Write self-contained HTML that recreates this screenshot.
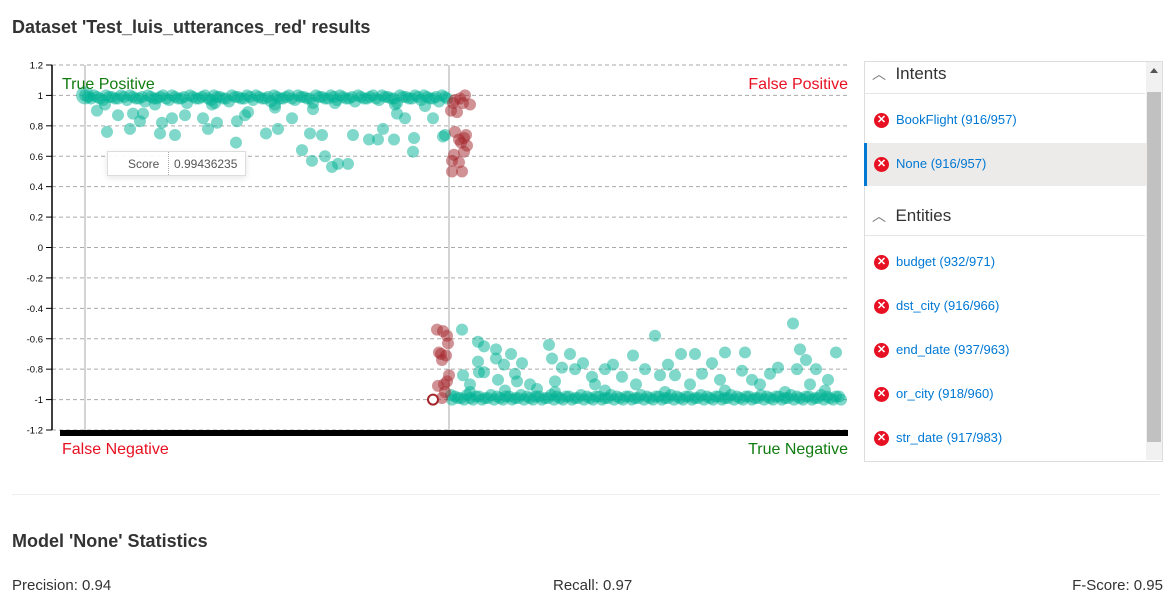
<!DOCTYPE html>
<html><head><meta charset="utf-8"><style>
body{margin:0;width:1166px;height:611px;background:#fff;font-family:"Liberation Sans",sans-serif;position:relative;overflow:hidden;color:#333}
.abs{position:absolute}
.item{position:absolute;left:865px;width:280px;height:43px;}
.item .x{position:absolute;left:9px;top:14px;width:15px;height:15px;border-radius:50%;background:#e81123;color:#fff;font-size:11px;line-height:15px;text-align:center;font-weight:bold}
.item .t{position:absolute;left:31px;top:13px;font-size:13px;color:#0078d4}
.hdr{position:absolute;left:872px;font-size:17px;color:#333}
</style></head><body>
<div class="abs" style="left:12px;top:17px;font-size:18px;font-weight:bold;color:#333">Dataset 'Test_luis_utterances_red' results</div>
<svg class="abs" style="left:0;top:0" width="860" height="470" id="chart"></svg>
<div class="abs" style="left:107px;top:151px;width:137px;height:23px;border:1px solid #ddd;background:rgba(255,255,255,0.92);box-shadow:0 2px 6px rgba(0,0,0,0.1);font-size:12px;color:#555">
<span style="position:absolute;left:20px;top:5px">Score</span><span style="position:absolute;left:60px;top:0;height:23px;border-left:1px dotted #aaa"></span><span style="position:absolute;left:66px;top:5px">0.99436235</span></div>

<div class="abs" style="left:864px;top:61px;width:297px;height:399px;border:1px solid #ddd"></div>
<div class="abs" style="left:1146px;top:62px;width:16px;height:398px;background:#f1f1f1"><div style="position:absolute;left:1px;top:30px;width:14px;height:350px;background:#c1c1c1"></div><div style="position:absolute;left:4px;top:6px;border:4px solid transparent;border-bottom:5px solid #555;border-top:0"></div></div>
<div class="hdr" style="top:64px"><span style="color:#777;font-size:14px">︿</span>&nbsp; Intents</div>
<div class="abs" style="left:865px;top:93px;width:280px;border-top:1px solid #e5e5e5"></div>
<div class="item" style="top:99px"><div class="x">✕</div><div class="t">BookFlight (916/957)</div></div>
<div class="item" style="top:143px;background:#edebe9;border-left:3px solid #0078d4;left:864px"><div class="x" style="left:7px">✕</div><div class="t" style="left:29px">None (916/957)</div></div>
<div class="hdr" style="top:206px"><span style="color:#777;font-size:14px">︿</span>&nbsp; Entities</div>
<div class="abs" style="left:865px;top:235px;width:280px;border-top:1px solid #e5e5e5"></div>
<div class="item" style="top:241px"><div class="x">✕</div><div class="t">budget (932/971)</div></div>
<div class="item" style="top:285px"><div class="x">✕</div><div class="t">dst_city (916/966)</div></div>
<div class="item" style="top:329px"><div class="x">✕</div><div class="t">end_date (937/963)</div></div>
<div class="item" style="top:373px"><div class="x">✕</div><div class="t">or_city (918/960)</div></div>
<div class="item" style="top:417px"><div class="x">✕</div><div class="t">str_date (917/983)</div></div>

<div class="abs" style="left:12px;top:494px;width:1148px;border-top:1px solid #eee"></div>
<div class="abs" style="left:12px;top:531px;font-size:18px;font-weight:bold">Model 'None' Statistics</div>
<div class="abs" style="left:12px;top:577px;font-size:15px">Precision: 0.94</div>
<div class="abs" style="left:553px;top:577px;font-size:15px">Recall: 0.97</div>
<div class="abs" style="right:3px;top:577px;font-size:15px">F-Score: 0.95</div>
<script>
const yTicks=[1.2,1,0.8,0.6,0.4,0.2,0,-0.2,-0.4,-0.6,-0.8,-1,-1.2];
const tpBand=[[0,1],[6,.98],[12,.99],[18,.97],[24,.99],[30,.98],[36,1],[42,.97],[48,.99],[54,.98],[60,.96],[66,.99],[72,.98],[78,1],[84,.97],[90,.99],[96,.98],[102,.95],[108,.99],[114,.98],[120,1],[126,.97],[132,.99],[138,.98],[144,.96],[150,.99],[156,.98],[162,1],[168,.97],[174,.99],[180,.98],[186,.96],[192,.99],[198,.98],[204,1],[210,.97],[216,.99],[222,.98],[228,.95],[234,.99],[240,.98],[246,1],[252,.97],[258,.99],[264,.98],[270,.96],[276,.99],[282,.98],[288,1],[294,.97],[300,.99],[306,.98],[312,.95],[318,.99],[324,.98],[330,1],[336,.97],[342,.99],[348,.98],[354,.96],[360,.99],[20,.94],[70,.94],[130,.95],[190,.94],[250,.95],[310,.94],[340,.93]];
const tpBand2=[[3,.99],[9,1],[15,.98],[21,1],[27,.99],[33,.98],[39,.99],[45,1],[51,.98],[57,.99],[63,1],[69,.98],[75,.99],[81,.98],[87,1],[93,.98],[99,.99],[105,1],[111,.98],[117,.99],[123,.98],[129,1],[135,.99],[141,.98],[147,1],[153,.99],[159,.98],[165,.99],[171,1],[177,.98],[183,.99],[189,1],[195,.98],[201,.99],[207,.98],[213,1],[219,.99],[225,.98],[231,1],[237,.99],[243,.98],[249,.99],[255,1],[261,.98],[267,.99],[273,1],[279,.98],[285,.99],[291,.98],[297,1],[303,.99],[309,.98],[315,1],[321,.99],[327,.98],[333,.99],[339,1],[345,.98],[351,.99],[357,1],[362,.98]];
const tpOut=[[12,.9],[22,.76],[33,.87],[45,.78],[48,.88],[58,.88],[55,.83],[75,.75],[77,.82],[87,.85],[90,.74],[100,.87],[118,.85],[123,.78],[127,.94],[132,.82],[152,.83],[160,.87],[151,.69],[163,.89],[181,.75],[190,.92],[193,.78],[207,.85],[217,.64],[225,.75],[228,.91],[227,.57],[237,.74],[240,.6],[247,.53],[253,.55],[263,.55],[268,.74],[284,.71],[293,.71],[298,.78],[309,.71],[312,.88],[320,.85],[328,.63],[329,.72],[348,.85],[358,.73],[360,.74]];
const fpPts=[[370,.97],[375,.98],[378,.95],[385,.94],[366,.9],[372,.89],[370,.76],[374,.71],[376,.69],[379,.72],[381,.74],[382,.67],[379,.63],[369,.61],[367,.57],[374,.56],[367,.5],[377,.5],[368,.95],[380,1]];
const fnPts=[[352,-.54],[358,-.55],[362,-.58],[363,-.63],[354,-.69],[356,-.7],[361,-.71],[357,-.74],[364,-.84],[353,-.91],[359,-.9],[362,-.88],[357,-.99],[360,-.95]];
const fnOpen=[[348,-1]];
const tnBand=[[370,-.98],[376,-.99],[382,-.97],[388,-1],[394,-.98],[400,-.99],[406,-.97],[412,-.98],[418,-1],[424,-.98],[430,-.99],[436,-.97],[442,-.98],[448,-1],[454,-.98],[460,-.99],[466,-.97],[472,-.98],[478,-1],[484,-.98],[490,-.99],[496,-.97],[502,-.98],[508,-1],[514,-.98],[520,-.99],[526,-.97],[532,-.98],[538,-1],[544,-.98],[550,-.99],[556,-.97],[562,-.98],[568,-1],[574,-.98],[580,-.99],[586,-.97],[592,-.98],[598,-1],[604,-.98],[610,-.99],[616,-.97],[622,-.98],[628,-1],[634,-.98],[640,-.99],[646,-.97],[652,-.98],[658,-1],[664,-.98],[670,-.99],[676,-.97],[682,-.98],[688,-1],[694,-.98],[700,-.99],[706,-.97],[712,-.98],[718,-1],[724,-.98],[730,-.99],[736,-.97],[742,-.98],[748,-1],[754,-.98],[366,-.97],[385,-.95],[420,-.94],[470,-.95],[520,-.94],[580,-.95],[640,-.94],[700,-.95],[740,-.94]];
const tnBand2=[[367,-1],[373,-.99],[379,-1],[385,-.99],[391,-.98],[397,-1],[403,-.99],[409,-1],[415,-.99],[421,-.98],[427,-1],[433,-.99],[439,-1],[445,-.99],[451,-.98],[457,-1],[463,-.99],[469,-1],[475,-.99],[481,-.98],[487,-1],[493,-.99],[499,-1],[505,-.99],[511,-.98],[517,-1],[523,-.99],[529,-1],[535,-.99],[541,-.98],[547,-1],[553,-.99],[559,-1],[565,-.99],[571,-.98],[577,-1],[583,-.99],[589,-1],[595,-.99],[601,-.98],[607,-1],[613,-.99],[619,-1],[625,-.99],[631,-.98],[637,-1],[643,-.99],[649,-1],[655,-.99],[661,-.98],[667,-1],[673,-.99],[679,-1],[685,-.99],[691,-.98],[697,-1],[703,-.99],[709,-1],[715,-.99],[721,-.98],[727,-1],[733,-.99],[739,-1],[745,-.99],[751,-.98],[756,-1]];
const tnOut=[[377,-.54],[393,-.62],[399,-.65],[411,-.67],[393,-.75],[394,-.82],[399,-.82],[378,-.84],[385,-.9],[411,-.73],[413,-.87],[419,-.77],[426,-.7],[430,-.83],[432,-.88],[437,-.76],[445,-.9],[452,-.93],[464,-.64],[467,-.73],[470,-.88],[477,-.79],[485,-.7],[490,-.8],[498,-.76],[507,-.85],[510,-.9],[520,-.8],[528,-.77],[537,-.85],[548,-.71],[551,-.9],[560,-.8],[570,-.58],[575,-.84],[583,-.77],[590,-.84],[596,-.7],[605,-.9],[610,-.7],[617,-.83],[627,-.76],[635,-.87],[640,-.69],[657,-.81],[660,-.69],[667,-.87],[675,-.9],[685,-.83],[693,-.79],[708,-.5],[712,-.8],[715,-.67],[725,-.9],[731,-.8],[743,-.87],[751,-.69],[721,-.74]];
const svg=document.getElementById('chart');const NS='http://www.w3.org/2000/svg';
const x0=85,x1=848,xMax=763,yTop=65,yBot=430;
function xs(v){return x0+v*(x1-x0)/xMax}
function ys(v){return yTop+(1.2-v)*(yBot-yTop)/2.4}
function mk(t,a){const e=document.createElementNS(NS,t);for(const k in a)e.setAttribute(k,a[k]);svg.appendChild(e);return e}
yTicks.forEach(t=>{const y=ys(t);
const g=mk('line',{x1:52,x2:848,y1:y,y2:y,stroke:'#aaa','stroke-dasharray':'4,3'});


mk('line',{x1:46,x2:52,y1:y,y2:y,stroke:'#000'});
const tx=mk('text',{x:43,y:y+3.5,'text-anchor':'end','font-size':'9.5',fill:'#000','font-family':'Liberation Sans'});tx.textContent=String(t);

});
mk('line',{x1:52,x2:52,y1:yTop,y2:yBot,stroke:'#000','stroke-width':1.5});
mk('line',{x1:xs(0),x2:xs(0),y1:yTop,y2:yBot,stroke:'#aaa'});
mk('line',{x1:xs(364),x2:xs(364),y1:yTop,y2:yBot,stroke:'#aaa'});
const bar=mk('rect',{x:60,y:430,width:788,height:6,fill:'#000'});


function dots(arr,fill,name,r){arr.forEach(p=>{const c=mk('circle',{cx:xs(p[0]),cy:ys(p[1]),r:r||6,fill:fill,'fill-opacity':0.5});

});}
dots(tpOut,'#00b294','tp-point');dots(tnOut,'#00b294','tn-point');
dots(tpBand,'#00b294','tp-point');dots(tpBand2,'#00b294','tp-point');
dots(tnBand,'#00b294','tn-point');dots(tnBand2,'#00b294','tn-point');
dots(fpPts,'#a4262c','fp-point');dots(fnPts,'#a4262c','fn-point');
const big=mk('circle',{cx:xs(0),cy:ys(1),r:9,fill:'#00b294','fill-opacity':0.5});


fnOpen.forEach(p=>{const c=mk('circle',{cx:xs(p[0]),cy:ys(p[1]),r:5,fill:'#fff',stroke:'#a4262c','stroke-width':2});

});
function lab(t,x,y,c,a,n){const e=mk('text',{x:x,y:y,fill:c,'font-size':'16','text-anchor':a,'font-family':'Liberation Sans'});e.textContent=t;

}
lab('True Positive',62,89,'#107c10','start','true-positive-label');
lab('False Positive',848,89,'#e81123','end','false-positive-label');
lab('False Negative',62,454,'#e81123','start','false-negative-label');
lab('True Negative',848,454,'#107c10','end','true-negative-label');
</script>
</body></html>
